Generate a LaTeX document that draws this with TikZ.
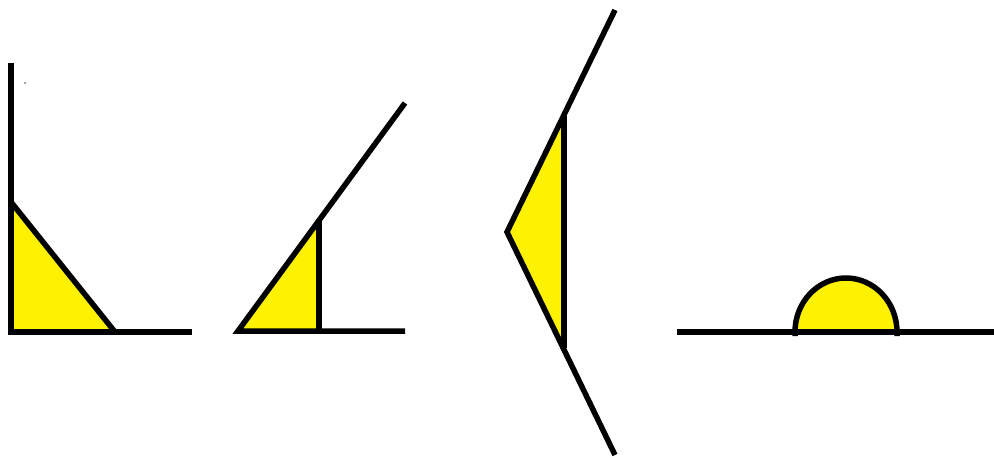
\documentclass[tikz,border=0pt]{standalone}
\begin{document}
\begin{tikzpicture}[x=1pt,y=-1pt,
  edge/.style={line width=5.5pt,black},
  fillyel/.style={fill={rgb,255:red,255;green,242;blue,0}}]
\useasboundingbox (0,0) rectangle (994,458);
% figure 1
\fill[fillyel] (11,202) -- (11,332) -- (115,332) -- cycle;
\draw[edge] (11,63) -- (11,332) -- (192,332);
\draw[edge] (11,202) -- (115,332);
\fill[black!70] (25,83) circle (0.8);
% figure 2
\fill[fillyel] (238,331) -- (319,331) -- (319,221) -- cycle;
\draw[edge] (405,331) -- (238,331) -- (405,103);
\draw[edge] (319,331) -- (319,219);
% figure 3
\fill[fillyel] (564,117) -- (507,232) -- (564,346) -- cycle;
\draw[edge] (615,10) -- (507,232) -- (615,455);
\draw[edge] (564,115) -- (564,348);
% figure 4
\fill[fillyel] (795,332) arc[start angle=180,end angle=360,x radius=51,y radius=54] -- cycle;
\draw[edge] (677,332) -- (994,332);
\draw[edge] (795,336) -- (795,332) arc[start angle=180,end angle=360,x radius=51,y radius=54] -- (897,336);
\end{tikzpicture}
\end{document}
